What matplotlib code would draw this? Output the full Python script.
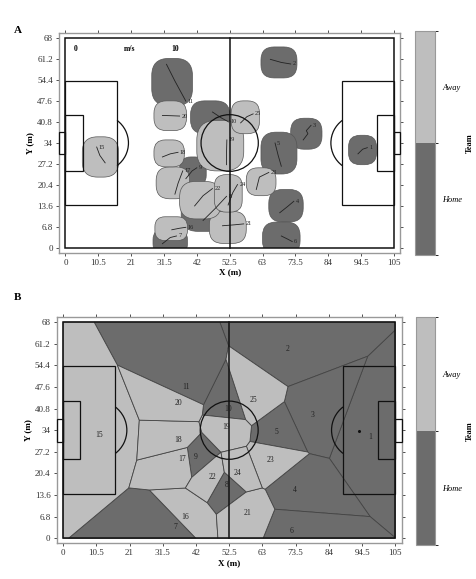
import numpy as np
import matplotlib
matplotlib.use('Agg')
import matplotlib.pyplot as plt
from matplotlib.patches import FancyBboxPatch, Polygon, Rectangle, Arc, Circle
from matplotlib.colors import ListedColormap, BoundaryNorm
from matplotlib.cm import ScalarMappable

plt.rcParams['font.family'] = ['Liberation Serif', 'DejaVu Serif']

# --- data ---
ids = ['1', '2', '3', '4', '5', '6', '7', '8', '9', '10', '11',
       '15', '16', '17', '18', '19', '20', '21', '22', '23', '24', '25']
team = ['H'] * 11 + ['A'] * 11

# panel A: reach region of each player (x0, x1, y0, y1) and recent trajectory
reg_x0 = [90.5, 62.5, 72, 65, 62.5, 63, 28, 37, 36.5, 40, 27.6,
          5.4, 28.6, 29, 28.3, 42, 28.3, 46, 36.5, 57.8, 47.6, 53]
reg_x1 = [99.4, 74, 82, 76, 74, 75, 39, 51, 45, 52.5, 40.6,
          17, 39, 39.7, 38, 57, 38.7, 57.8, 49.8, 67.3, 56.5, 62]
reg_y0 = [27, 55, 32, 8.5, 24, -2, -2, 5.5, 20, 37, 46,
          23, 2.5, 16, 26.3, 25, 38, 1.6, 9.5, 17, 11.7, 37]
reg_y1 = [36.5, 65, 42, 19, 37.5, 8.5, 6.3, 18, 29.5, 47.6, 61.3,
          36, 10.2, 26.3, 35, 41.3, 47.6, 12, 21.6, 26, 23.8, 47.6]
traj_x = [[93.5, 95, 96.5], [65.5, 69, 72], [76, 77.5, 77, 78.5], [68.5, 71, 73],
          [69, 68, 67], [69, 71, 72.5], [31, 33.5, 35.5], [44, 48, 51.5],
          [38.5, 40.5, 42], [47, 50, 52.2], [32.3, 35, 38.5],
          [12.7, 11, 10], [34, 36.5, 38.5], [35, 36, 37.5], [31, 33.5, 36],
          [51.5, 51.5, 51.6], [31, 34, 36.5], [50.2, 54, 57], [41.3, 44, 47],
          [61, 62, 65], [52, 53.5, 55], [56, 58, 60]]
traj_y = [[30.5, 32, 32.5], [61, 60, 59.5], [35, 37, 38, 39.7], [11.5, 13.5, 15.2],
          [26.5, 30, 34], [4, 3, 2.2], [1.5, 3.5, 4], [9, 13, 16.8],
          [22.5, 25, 26], [44, 42, 40.8], [59.4, 54, 47.5],
          [27.6, 30, 32.7], [6, 6.5, 6.8], [17.5, 21, 25], [29.5, 30.5, 31],
          [27, 31, 35], [42.9, 42.8, 42.7], [7.3, 7.6, 7.9], [13.7, 17, 19.3],
          [19, 23, 24.5], [14, 18, 20.6], [40.5, 42.5, 43.4]]

# panel B: player positions at the snapshot
pos_x = [97.2, 71.1, 78.9, 73.3, 67.3, 72.3, 35.5, 51.6, 41.8, 52.2, 38.7,
         11.3, 38.7, 37.7, 36.2, 51.6, 36.5, 58.2, 47.2, 65.7, 55.0, 60.1]
pos_y = [32.0, 59.5, 38.9, 15.2, 33.5, 2.2, 3.5, 16.8, 25.6, 40.8, 47.5,
         32.6, 6.6, 25.0, 31.0, 35.1, 42.7, 7.9, 19.3, 24.7, 20.6, 43.4]
ball = (93.6, 33.8)

xticks = [0, 10.5, 21, 31.5, 42, 52.5, 63, 73.5, 84, 94.5, 105]
yticks = [0, 6.8, 13.6, 20.4, 27.2, 34, 40.8, 47.6, 54.4, 61.2, 68]
xtick_labels = ['0', '10.5', '21', '31.5', '42', '52.5', '63', '73.5', '84', '94.5', '105']
ytick_labels = ['0', '6.8', '13.6', '20.4', '27.2', '34', '40.8', '47.6', '54.4', '61.2', '68']

DARK = '#6c6c6c'
LIGHT = '#bebebe'
col = {'H': DARK, 'A': LIGHT}


def draw_pitch(ax):
    lc = '#111111'
    lw = 0.9
    ax.add_patch(Rectangle((0, 0), 105, 68, fill=False, ec=lc, lw=1.1, zorder=5))
    ax.plot([52.5, 52.5], [0, 68], color=lc, lw=1.1, zorder=5)
    ax.add_patch(Circle((52.5, 34), 9.15, fill=False, ec=lc, lw=lw, zorder=5))
    for side in (0, 1):
        if side == 0:
            x0, d = 0, 1
        else:
            x0, d = 105, -1
        ax.add_patch(Rectangle((x0 if d > 0 else x0 - 16.5, 13.84), 16.5, 40.32,
                               fill=False, ec=lc, lw=lw, zorder=5))
        ax.add_patch(Rectangle((x0 if d > 0 else x0 - 5.5, 24.84), 5.5, 18.32,
                               fill=False, ec=lc, lw=lw, zorder=5))
        ax.add_patch(Rectangle((x0 - 2 if d > 0 else x0, 30.34), 2, 7.32,
                               fill=False, ec=lc, lw=lw, zorder=5, clip_on=False))
        px = 11 if d > 0 else 94
        if d > 0:
            ax.add_patch(Arc((px, 34), 18.3, 18.3, theta1=-53, theta2=53, ec=lc, lw=lw, zorder=5))
        else:
            ax.add_patch(Arc((px, 34), 18.3, 18.3, theta1=127, theta2=233, ec=lc, lw=lw, zorder=5))


def style_axes(ax):
    ax.set_xlim(-2, 107)
    ax.set_ylim(-1.5, 69.5)
    ax.set_xticks(xticks)
    ax.set_xticklabels(xtick_labels)
    ax.set_yticks(yticks)
    ax.set_yticklabels(ytick_labels)
    ax.tick_params(direction='out', length=2.5, width=0.6, labelsize=6.5,
                   top=True, right=True, colors='#333333', pad=2)
    for s in ax.spines.values():
        s.set_color('#999999')
        s.set_linewidth(1.0)
    ax.set_xlabel('X (m)', fontsize=6.5, fontweight='bold', labelpad=1)
    ax.set_ylabel('Y (m)', fontsize=6.5, fontweight='bold', labelpad=2)


def team_colorbar(fig, rect):
    cax = fig.add_axes(rect)
    cmap = ListedColormap([DARK, LIGHT])
    norm = BoundaryNorm([0, 1, 2], 2)
    cb = fig.colorbar(ScalarMappable(norm=norm, cmap=cmap), cax=cax, ticks=[0.5, 1.5])
    cb.ax.set_yticklabels(['Home', 'Away'], fontsize=6, style='italic')
    cb.ax.tick_params(length=0, pad=5)
    cb.outline.set_edgecolor('#999999')
    cb.set_label('Team', fontsize=6, fontweight='bold', labelpad=3)


def clip_halfplane(poly, a, b, c):
    # keep a*x + b*y <= c
    out = []
    n = len(poly)
    for k in range(n):
        p = poly[k]
        q = poly[(k + 1) % n]
        fp = a * p[0] + b * p[1] - c
        fq = a * q[0] + b * q[1] - c
        if fp <= 0:
            out.append(p)
        if fp * fq < 0:
            t = fp / (fp - fq)
            out.append((p[0] + t * (q[0] - p[0]), p[1] + t * (q[1] - p[1])))
    return out


fig = plt.figure(figsize=(4.77, 5.79), dpi=100)

# ---------- panel A ----------
axA = fig.add_axes([0.124, 0.563, 0.715, 0.380])
field = Rectangle((0, 0), 105, 68, transform=axA.transData, fill=False, lw=0)
axA.add_patch(field)
for i in range(len(ids)):
    w = reg_x1[i] - reg_x0[i]
    h = reg_y1[i] - reg_y0[i]
    r = min(w, h) * 0.42
    blob = FancyBboxPatch((reg_x0[i] + r, reg_y0[i] + r), w - 2 * r, h - 2 * r,
                          boxstyle='round,pad=%f' % r, fc=col[team[i]],
                          ec='#555555', lw=0.5, zorder=2)
    axA.add_patch(blob)
    blob.set_clip_path(field)
    axA.plot(traj_x[i], traj_y[i], color='#222222', lw=0.6, zorder=3)
    axA.text(traj_x[i][-1] + 0.6, traj_y[i][-1], ids[i], fontsize=4.5,
             ha='left', va='center', zorder=4, color='#222222')
draw_pitch(axA)
axA.text(3.2, 64.4, '0', fontsize=5.5, ha='center', va='center', fontweight='bold')
axA.text(20.6, 64.4, 'm/s', fontsize=5.5, ha='center', va='center', fontweight='bold')
axA.text(35, 64.4, '10', fontsize=5.5, ha='center', va='center', fontweight='bold')
style_axes(axA)
fig.text(0.03, 0.948, 'A', fontsize=8, fontweight='bold', va='center')
team_colorbar(fig, [0.870, 0.560, 0.042, 0.387])

# ---------- panel B ----------
axB = fig.add_axes([0.119, 0.062, 0.723, 0.390])
pts = np.column_stack([pos_x, pos_y])
for i in range(len(pts)):
    poly = [(0, 0), (105, 0), (105, 68), (0, 68)]
    for j in range(len(pts)):
        if i == j:
            continue
        a, b = 2 * (pts[j] - pts[i])
        c = pts[j] @ pts[j] - pts[i] @ pts[i]
        poly = clip_halfplane(poly, a, b, c)
        if not poly:
            break
    if poly:
        axB.add_patch(Polygon(poly, closed=True, fc=col[team[i]], ec='#444444',
                              lw=0.6, zorder=2))
    axB.text(pos_x[i], pos_y[i], ids[i], fontsize=5.5, ha='center', va='center',
             color='#222222', zorder=6)
axB.plot(ball[0], ball[1], 'o', ms=1.2, color='#111111', zorder=6)
draw_pitch(axB)
style_axes(axB)
fig.text(0.03, 0.487, 'B', fontsize=8, fontweight='bold', va='center')
team_colorbar(fig, [0.872, 0.059, 0.040, 0.394])

fig.savefig('out.png', dpi=100)
